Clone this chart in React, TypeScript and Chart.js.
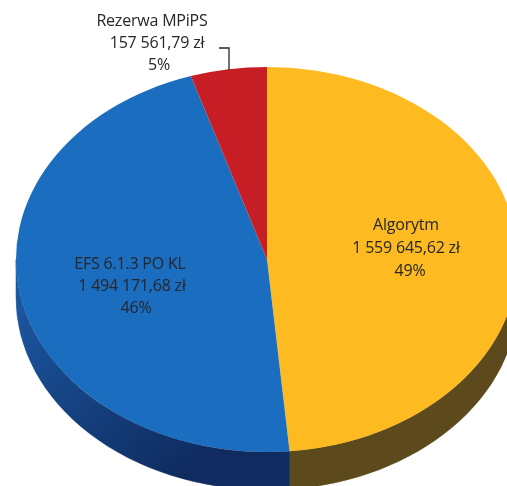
import React, { useEffect, useRef } from "react";
import { Chart, registerables } from "chart.js";

Chart.register(...registerables);

const categories = ["Algorytm", "EFS 6.1.3 PO KL", "Rezerwa MPiPS"];
const amounts = [1559645.62, 1494171.68, 157561.79];
const amountLabels = ["1 559 645,62 zł", "1 494 171,68 zł", "157 561,79 zł"];
const percentLabels = ["49%", "46%", "5%"];
const faceColors = ["#fdbb21", "#1b6dbf", "#c71d25"];
const sideStart = ["#5d4a1c", "#1c5aa6", "#6a1015"];
const sideEnd = ["#5d4a1c", "#0f2b5f", "#6a1015"];

// x centre of each text line and y baseline of each text line, per category
const labelX = [[406, 406, 410], [130, 132, 136], [152, 157, 159]];
const labelY = [[230, 253, 276], [269, 291, 313], [26, 48, 70]];

const RX = 251;
const SQUASH = 192.5 / 251;
const DEPTH = 38;

const elliptical = {
  id: "elliptical",
  beforeDatasetsDraw(chart: any) {
    const { ctx } = chart;
    const arcs = chart.getDatasetMeta(0).data;
    const cx = arcs[0].x;
    const cy = arcs[0].y;
    ctx.save();
    ctx.translate(cx, cy);
    ctx.scale(1, SQUASH);
    ctx.translate(-cx, -cy);
    const d = DEPTH / SQUASH;
    arcs.forEach((a: any, i: number) => {
      const s = Math.max(a.startAngle, 0);
      const e = Math.min(a.endAngle, Math.PI);
      if (e <= s) return;
      const g = ctx.createLinearGradient(cx - a.outerRadius, cy, cx + 20, cy + a.outerRadius);
      g.addColorStop(0.05, sideStart[i]);
      g.addColorStop(0.85, sideEnd[i]);
      ctx.beginPath();
      ctx.arc(a.x, a.y, a.outerRadius, s, e);
      ctx.arc(a.x, a.y + d, a.outerRadius, e, s, true);
      ctx.closePath();
      ctx.fillStyle = g;
      ctx.fill();
      ctx.strokeStyle = g;
      ctx.lineWidth = 0.6;
      ctx.stroke();
    });
  },
  afterDatasetsDraw(chart: any) {
    chart.ctx.restore();
  },
};

const textLabels = {
  id: "textLabels",
  afterDraw(chart: any) {
    const { ctx } = chart;
    ctx.save();
    ctx.font = '16px "Open Sans"';
    ctx.fillStyle = "#26262b";
    ctx.textAlign = "center";
    ctx.textBaseline = "alphabetic";
    (ctx as any).letterSpacing = "-0.2px";
    categories.forEach((c, i) => {
      [c, amountLabels[i], percentLabels[i]].forEach((line, j) => {
        ctx.fillText(line, labelX[i][j], labelY[i][j]);
      });
    });
    ctx.strokeStyle = "#26262b";
    ctx.lineWidth = 1.3;
    ctx.beginPath();
    ctx.moveTo(219, 48);
    ctx.lineTo(229, 48);
    ctx.lineTo(229, 70);
    ctx.stroke();
    ctx.restore();
  },
};

export default function App() {
  const ref = useRef<HTMLCanvasElement>(null);
  useEffect(() => {
    document.body.style.margin = "0";
    const chart = new Chart(ref.current!, {
      type: "pie",
      data: {
        labels: categories,
        datasets: [
          {
            data: amounts,
            backgroundColor: faceColors,
            borderWidth: 0,
            clip: false,
          } as any,
        ],
      },
      options: {
        animation: false,
        responsive: false,
        radius: RX,
        layout: { padding: { left: 27, top: 33, right: 0, bottom: 0 } },
        plugins: { legend: { display: false }, tooltip: { enabled: false } },
      } as any,
      plugins: [elliptical, textLabels],
    });
    return () => chart.destroy();
  }, []);
  return <canvas ref={ref} width={507} height={486} style={{ display: "block" }} />;
}
